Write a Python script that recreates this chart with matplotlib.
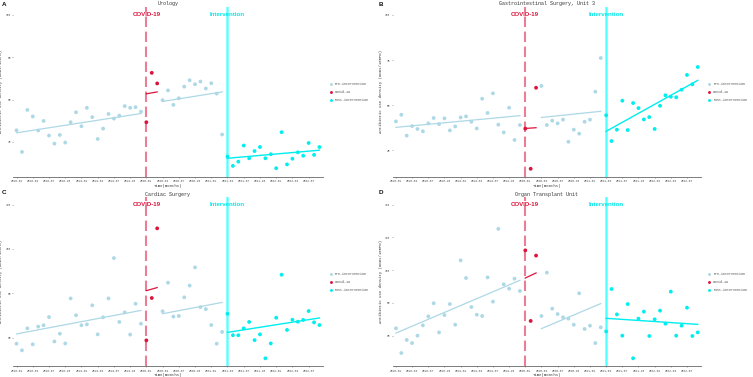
import matplotlib
matplotlib.use("Agg")
import matplotlib.pyplot as plt
from matplotlib.lines import Line2D
import numpy as np

# ---------------- data ----------------
tick_labels = ["2018-01", "2018-04", "2018-07", "2018-10", "2019-01", "2019-04", "2019-07",
               "2019-10", "2020-01", "2020-04", "2020-07", "2020-10", "2021-01", "2021-04",
               "2021-07", "2021-10", "2022-01", "2022-04", "2022-07"]
n_pre1, n_covid, n_pre2, n_post = 24, 3, 12, 18
covid_month = 24      # 2020-01
interv_month = 39     # 2021-04

titles = ["Urology", "Gastrointestinal Surgery, Unit 3", "Cardiac Surgery", "Organ Transplant Unit"]
letters = ["A", "B", "C", "D"]

# Urology
uro_pre1 = [45.5, 35.3, 55.1, 52.0, 45.4, 49.9, 43.0, 39.2, 43.3, 39.7, 49.3, 54.0,
            47.4, 56.1, 51.7, 41.4, 46.3, 53.2, 51.0, 52.4, 56.9, 56.1, 56.4, 54.3]
uro_covid = [49.3, 72.6, 67.6]
uro_pre2 = [59.7, 64.3, 57.5, 60.6, 66.1, 69.1, 67.2, 68.5, 65.2, 67.7, 62.8, 43.5]
uro_post = [33.1, 28.7, 30.7, 38.3, 32.3, 35.7, 37.6, 32.3, 34.2, 27.6, 44.6, 29.4,
            32.1, 35.1, 33.5, 39.5, 33.9, 37.6]
uro_fit = [[44.3, 53.4], [62.7, 63.6], [59.1, 63.6], [32.3, 36.1]]

# Gastrointestinal Surgery, Unit 3
gi_pre1 = [40.9, 44.6, 33.0, 38.3, 36.7, 35.4, 39.8, 42.8, 39.4, 42.6, 35.9, 38.1,
           43.1, 43.7, 40.7, 37.0, 53.5, 45.6, 56.5, 39.1, 34.8, 48.5, 30.6, 38.9]
gi_covid = [36.9, 14.6, 59.6]
gi_pre2 = [60.6, 38.9, 41.3, 39.8, 41.9, 29.6, 36.3, 34.1, 40.7, 41.9, 57.4, 76.1]
gi_post = [44.3, 30.0, 36.3, 52.4, 36.1, 51.1, 48.3, 42.0, 43.3, 36.7, 49.6, 55.4,
           54.6, 54.3, 58.5, 66.7, 61.5, 71.1]
gi_fit = [[37.6, 44.1], [37.0, 37.4], [43.1, 46.5], [35.4, 63.7]]

# Cardiac Surgery
card_pre1 = [57.3, 54.3, 64.2, 57.0, 65.0, 65.6, 69.3, 58.3, 61.8, 57.4, 77.7, 70.1,
             65.6, 66.0, 74.6, 61.5, 69.2, 77.7, 95.9, 67.1, 71.4, 61.4, 75.3, 66.3]
card_covid = [58.8, 77.9, 109.3]
card_pre2 = [71.9, 84.8, 69.5, 69.8, 78.2, 83.5, 91.7, 73.8, 72.9, 65.7, 57.3, 62.6]
card_post = [70.8, 61.1, 61.1, 64.2, 67.1, 58.9, 61.5, 50.7, 57.4, 69.0, 88.4, 63.5,
             68.1, 67.2, 68.0, 72.0, 66.9, 65.7]
card_fit = [[61.7, 72.3], [81.2, 82.6], [70.8, 75.9], [62.4, 68.9]]

# Organ Transplant Unit
org_pre1 = [64.5, 49.4, 57.4, 55.5, 60.0, 66.3, 71.8, 79.8, 62.0, 72.6, 79.3, 66.7,
            106.0, 95.2, 77.5, 72.8, 72.0, 95.6, 80.8, 125.2, 91.4, 88.7, 94.8, 87.3]
org_covid = [112.1, 69.0, 108.9]
org_pre2 = [72.0, 98.5, 76.5, 73.2, 71.2, 70.4, 66.7, 85.9, 64.1, 66.1, 55.5, 65.1]
org_post = [62.6, 88.5, 73.0, 60.0, 79.3, 46.2, 70.4, 74.7, 59.8, 70.0, 75.3, 67.3,
            86.9, 60.0, 66.1, 77.1, 59.8, 62.0]
org_fit = [[61.6, 93.8], [95.2, 98.3], [64.3, 79.6], [70.6, 66.9]]

ylims = [(23.6, 103.8), (10.2, 104.6), (47.1, 123.3), (41.3, 144.5)]
yticks = [[40, 60, 80, 100], [25, 50, 75, 100], [60, 80, 100, 120], [60, 80, 100, 120, 140]]

panels = [
    (uro_pre1, uro_covid, uro_pre2, uro_post, uro_fit),
    (gi_pre1, gi_covid, gi_pre2, gi_post, gi_fit),
    (card_pre1, card_covid, card_pre2, card_post, card_fit),
    (org_pre1, org_covid, org_pre2, org_post, org_fit),
]

# ---------------- style ----------------
C_PRE = "#ADD8E6"
C_COVID = "#DC143C"
C_POST = "#00EEEE"
MONO = ["Liberation Mono", "DejaVu Sans Mono"]
SANS = ["Liberation Sans", "DejaVu Sans"]

W, H = 753, 377
fig = plt.figure(figsize=(W / 100, H / 100), dpi=100)

boxes = [(13.3, 6.7, 322.7, 176.7), (392.7, 6.7, 701.0, 176.7),
         (13.3, 197.3, 322.7, 366.3), (392.7, 197.3, 701.0, 366.3)]
letter_pos = [(2, 1.5), (379, 1.5), (2, 190), (379, 190)]

x_pre1 = np.arange(0, n_pre1)
x_covid = np.arange(n_pre1, n_pre1 + n_covid)
x_pre2 = np.arange(n_pre1 + n_covid, n_pre1 + n_covid + n_pre2)
x_post = np.arange(interv_month, interv_month + n_post)
tick_pos = np.arange(0, 57, 3)

for i, (pre1, covid, pre2, post, fit) in enumerate(panels):
    l, t, r, b = boxes[i]
    ax = fig.add_axes([l / W, 1 - b / H, (r - l) / W, (b - t) / H])
    ax.set_xlim(-0.6, 56.6)
    ax.set_ylim(*ylims[i])

    # vertical markers
    ax.axvline(covid_month, color=C_COVID, alpha=0.55, lw=1.5, ls=(0, (5, 2.2)), zorder=1)
    ax.axvline(interv_month, color="#00FFFF", alpha=0.45, lw=2.2, zorder=1)
    ax.axvline(interv_month, color="#00FFFF", alpha=0.5, lw=0.6, zorder=1)

    top = yticks[i][-1]
    ax.text(covid_month, top, "COVID-19", color=C_COVID, fontsize=4.4, fontweight="bold",
            family=SANS, ha="center", va="center", zorder=5)
    ax.text(interv_month, top, "Intervention", color="#00E8E8", fontsize=4.4, fontweight="bold",
            family=SANS, ha="center", va="center", zorder=5)

    # points
    ax.scatter(np.concatenate([x_pre1, x_pre2]), list(pre1) + list(pre2), s=7.5,
               color=C_PRE, edgecolors="none", zorder=3)
    ax.scatter(x_covid, covid, s=7.5, color=C_COVID, edgecolors="none", zorder=3)
    ax.scatter(x_post, post, s=7.5, color=C_POST, edgecolors="none", zorder=3)

    # fitted segments
    ax.plot([x_pre1[0], x_pre1[-1]], fit[0], color=C_PRE, lw=0.9, zorder=2)
    ax.plot([x_covid[0], x_covid[-1]], fit[1], color=C_COVID, lw=0.9, zorder=2)
    ax.plot([x_pre2[0], x_pre2[-1]], fit[2], color=C_PRE, lw=0.9, zorder=2)
    ax.plot([x_post[0], x_post[-1]], fit[3], color=C_POST, lw=1.0, zorder=2)

    # axes styling
    for s in ["top", "right", "left"]:
        ax.spines[s].set_visible(False)
    ax.spines["bottom"].set_color("#666666")
    ax.spines["bottom"].set_linewidth(0.6)
    ax.set_xticks(tick_pos)
    ax.set_xticklabels(tick_labels)
    ax.set_yticks(yticks[i])
    ax.set_yticklabels([str(v) for v in yticks[i]])
    ax.tick_params(axis="both", length=1.0, width=0.4, color="#666666", pad=0.6,
                   labelsize=2.2, labelcolor="#555555")
    for lab in ax.get_xticklabels() + ax.get_yticklabels():
        lab.set_family(MONO)

    ax.set_title(titles[i], fontsize=3.6, family=MONO, color="#333333", pad=1.2)
    ax.set_xlabel("Time(months)", fontsize=2.8, family=MONO, color="#333333")
    ax.xaxis.set_label_coords(0.5, -0.04)
    ax.set_ylabel("Antibiotic use density (DDDs/100PD)", fontsize=2.8, family=MONO, color="#333333")
    ax.yaxis.set_label_coords(-0.032, 0.5)

    handles = [Line2D([], [], ls="none", marker="o", ms=2.1, color=c, markeredgewidth=0)
               for c in (C_PRE, C_COVID, C_POST)]
    leg = ax.legend(handles, ["Pre-intervention", "Covid-19", "Post-intervention"],
                    loc="center left", bbox_to_anchor=(1.015, 0.5), frameon=False,
                    prop={"family": MONO, "size": 2.3}, handlelength=1.0,
                    handletextpad=0.9, labelspacing=1.25, borderpad=0)
    for txt in leg.get_texts():
        txt.set_color("#444444")

    fig.text(letter_pos[i][0] / W, 1 - letter_pos[i][1] / H, letters[i], fontsize=4.5,
             fontweight="bold", family=SANS, va="top", ha="left", color="#111111")

fig.savefig("out.png", dpi=100)
